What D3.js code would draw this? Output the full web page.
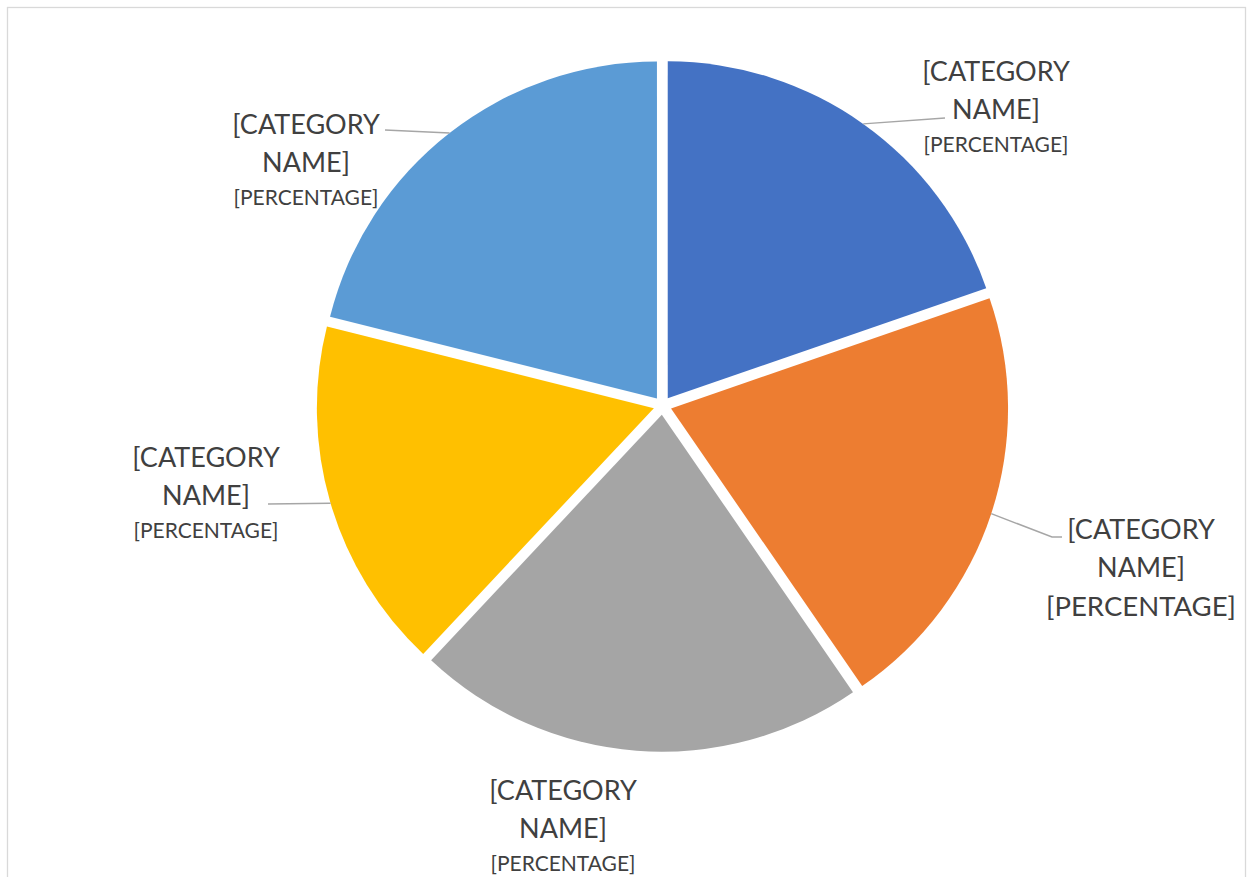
<!DOCTYPE html>
<html>
<head>
<meta charset="utf-8">
<script src="https://cdn.jsdelivr.net/npm/d3@7"></script>
<style>
  body { margin: 0; background: #fff; }
  svg { display: block; }
  text { font-family: Lato, "Open Sans", sans-serif; fill: #404040; }
</style>
</head>
<body>
<div id="holder"></div>
<script>
// data (share of the full circle, %)
const categories = ["[CATEGORY NAME]", "[CATEGORY NAME]", "[CATEGORY NAME]", "[CATEGORY NAME]", "[CATEGORY NAME]"];
const percentLabels = ["[PERCENTAGE]", "[PERCENTAGE]", "[PERCENTAGE]", "[PERCENTAGE]", "[PERCENTAGE]"];
const values = [19.7, 20.7, 21.6, 16.9, 21.1];
const colors = ["#4472C4", "#ED7D31", "#A5A5A5", "#FFC000", "#5B9BD5"];

// layout (relative to the pie centre)
const w = 1254, h = 877;
const cx = 662.5, cy = 405.7, r = 337, explode = 9;
const labelAt = [[333.5, -297.7], [478.5, 160.3], [-99.5, 421.3], [-456.5, 88.3], [-356.5, -244.7]];
const pctSize = [21, 27.5, 21, 21, 21];
// leader line bends / ends, null = no leader
const leaders = [
    [[282.5, -287.7]],
    [[389.5, 131.3], [399.5, 131.3]],
    null,
    [[-394.5, 98.3]],
    [[-277.5, -275.7]]
];

let svg = d3.select("#holder")
    .append("svg")
    .attr("width", w)
    .attr("height", h);

svg.append("rect")
    .attr("x", 7.5).attr("y", 7.5)
    .attr("width", 1238).attr("height", 900)
    .attr("fill", "#fff")
    .attr("stroke", "#D9D9D9")
    .attr("stroke-width", 1.3);

let pie = d3.pie().sort(null).value(d => d);
let arcs = pie(values);
let arc = d3.arc().innerRadius(0).outerRadius(r);

let g = svg.append("g").attr("transform", "translate(" + cx + "," + cy + ")");

// shift of a slice along its bisector
function shift(d, dist) {
    let a = (d.startAngle + d.endAngle) / 2;
    return [Math.sin(a) * dist, -Math.cos(a) * dist];
}

g.selectAll("path.slice")
    .data(arcs)
    .enter()
    .append("path")
    .attr("class", "slice")
    .attr("transform", d => "translate(" + shift(d, explode) + ")")
    .attr("d", arc)
    .attr("fill", (d, i) => colors[i]);

// leader lines start on the outer edge at the bisector
arcs.forEach((d, i) => {
    if (!leaders[i]) return;
    let o = shift(d, explode);
    let p = shift(d, r);
    let pts = [[o[0] + p[0], o[1] + p[1]]].concat(leaders[i]);
    g.append("path")
        .attr("d", d3.line()(pts))
        .attr("fill", "none")
        .attr("stroke", "#A6A6A6")
        .attr("stroke-width", 1.5);
});

// labels
let lab = g.selectAll("g.label")
    .data(arcs)
    .enter()
    .append("g")
    .attr("class", "label")
    .attr("transform", (d, i) => "translate(" + labelAt[i] + ")");

lab.append("text")
    .attr("text-anchor", "middle")
    .attr("dominant-baseline", "central")
    .attr("y", -38)
    .style("font-size", "27px")
    .text((d, i) => categories[i].split(" ")[0]);

lab.append("text")
    .attr("text-anchor", "middle")
    .attr("dominant-baseline", "central")
    .attr("y", 0)
    .style("font-size", "27px")
    .text((d, i) => categories[i].split(" ")[1]);

lab.append("text")
    .attr("text-anchor", "middle")
    .attr("dominant-baseline", "central")
    .attr("y", (d, i) => pctSize[i] > 21 ? 39 : 35)
    .style("font-size", (d, i) => pctSize[i] + "px")
    .text((d, i) => percentLabels[i]);
</script>
</body>
</html>
